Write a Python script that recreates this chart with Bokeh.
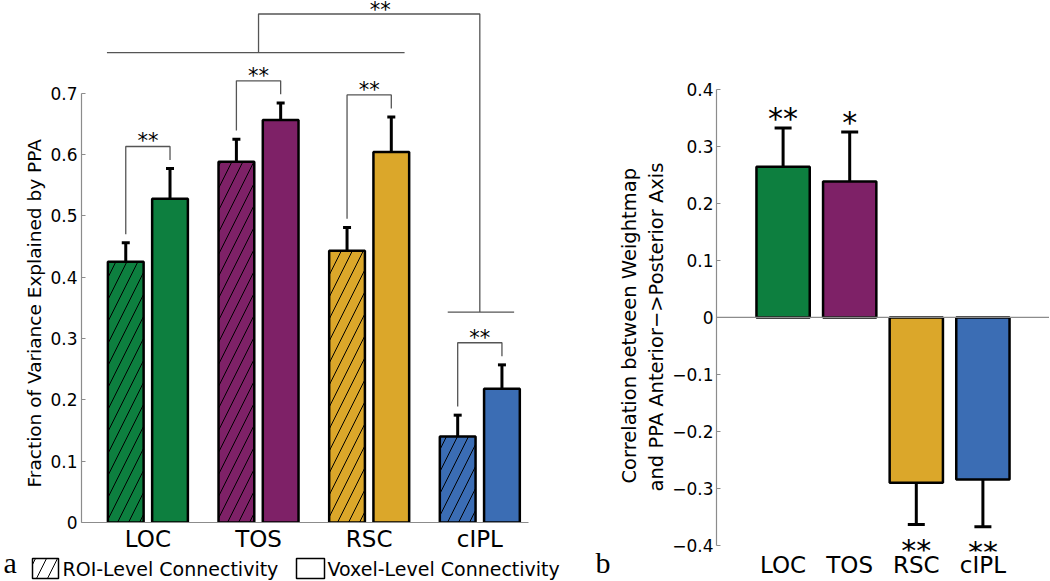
import numpy as np
from bokeh.plotting import figure
from bokeh.models import (ColumnDataSource, Whisker, TeeHead, FixedTicker, LinearAxis,
                          Span, Title, CustomJSTickFormatter)
from bokeh.layouts import row, column
from bokeh.embed import file_html
from bokeh.resources import INLINE
from bokeh.core.properties import value

# ---------------- data ----------------
regions = ["LOC", "TOS", "RSC", "cIPL"]
region_colors = ["#0d7f3f", "#7e2167", "#dba72a", "#3b6db4"]

roi_level = [0.425, 0.588, 0.443, 0.140]
roi_level_lower = [0.395, 0.551, 0.409, 0.104]
roi_level_upper = [0.456, 0.625, 0.481, 0.175]

voxel_level = [0.528, 0.656, 0.604, 0.218]
voxel_level_lower = [0.479, 0.630, 0.552, 0.182]
voxel_level_upper = [0.577, 0.684, 0.661, 0.257]

pair_stars = ["**", "**", "**", "**"]
group_vs_cipl_stars = "**"

correlation = [0.264, 0.238, -0.290, -0.284]
correlation_lower = [0.196, 0.152, -0.363, -0.367]
correlation_upper = [0.332, 0.325, -0.218, -0.200]
correlation_stars = ["**", "*", "**", "**"]

left_ticks = [0.0, 0.1, 0.2, 0.3, 0.4, 0.5, 0.6, 0.7]
left_tick_labels = ["0", "0.1", "0.2", "0.3", "0.4", "0.5", "0.6", "0.7"]
right_ticks = [-0.4, -0.3, -0.2, -0.1, 0.0, 0.1, 0.2, 0.3, 0.4]
right_tick_labels = ["\u22120.4", "\u22120.3", "\u22120.2", "\u22120.1", "0",
                     "0.1", "0.2", "0.3", "0.4"]

legend_labels = ["ROI-Level Connectivity", "Voxel-Level Connectivity"]
panel_letters = ["a", "b"]
left_ylabel = "Fraction of Variance Explained by PPA"
right_ylabel_lines = ["Correlation between Weightmap",
                      "and PPA Anterior\u2212>Posterior Axis"]

# ---------------- styles ----------------
FONT = "DejaVu Sans"
SERIF = "Liberation Serif"
AXIS_GRAY = "#8c8c8c"
BRACKET = "#555555"

LABEL_JS = """
let best = 0;
for (let i = 0; i < tvals.length; i++) {
  if (Math.abs(tvals[i] - tick) < Math.abs(tvals[best] - tick)) best = i;
}
return tlabels[best];
"""


def fmt(tv, tl):
    return CustomJSTickFormatter(args=dict(tvals=[float(t) for t in tv], tlabels=list(tl)),
                                 code=LABEL_JS)


def style_common(p):
    p.grid.visible = False
    p.outline_line_color = None
    p.background_fill_color = "white"
    p.border_fill_color = "white"


def style_axis(ax):
    ax.axis_line_color = AXIS_GRAY
    ax.axis_line_width = 1.2
    ax.major_tick_line_color = AXIS_GRAY
    ax.minor_tick_line_color = None
    ax.major_label_text_font = FONT
    ax.major_label_text_color = "black"


def blank_fig(w, h):
    f = figure(width=w, height=h, x_range=(0, w), y_range=(0, h),
               output_backend="svg", toolbar_location=None,
               x_axis_location=None, y_axis_location=None, frame_align=False,
               min_border_left=0, min_border_right=0, min_border_top=0, min_border_bottom=0)
    style_common(f)
    return f


# =============== panel a ===============
afig = blank_fig(20, 580)
afig.text(x=[3], y=[18], text=[panel_letters[0]], text_align="left",
          text_baseline="alphabetic", text_font=value(SERIF), text_font_size="30px",
          text_color="black")

p1 = figure(width=560, height=554, x_range=(-0.6, 3.44), y_range=(0, 0.851),
            output_backend="svg", toolbar_location=None,
            x_axis_location=None, y_axis_location=None, frame_align=False,
            min_border_left=59, min_border_right=52, min_border_top=0, min_border_bottom=30)
style_common(p1)

gx = np.arange(len(regions), dtype=float)
src1 = ColumnDataSource(dict(
    x_roi=gx - 0.2, x_vox=gx + 0.2,
    roi=roi_level, roi_lo=roi_level_lower, roi_hi=roi_level_upper,
    vox=voxel_level, vox_lo=voxel_level_lower, vox_hi=voxel_level_upper,
    color=region_colors))

p1.vbar(x="x_roi", top="roi", width=0.323, source=src1, fill_color="color",
        line_color="black", line_width=2.5, hatch_pattern="/", hatch_color="black",
        hatch_weight=1, hatch_scale=22)
p1.vbar(x="x_vox", top="vox", width=0.323, source=src1, fill_color="color",
        line_color="black", line_width=2.5)

for base, lo, hi in (("x_roi", "roi_lo", "roi_hi"), ("x_vox", "vox_lo", "vox_hi")):
    p1.add_layout(Whisker(base=base, lower=lo, upper=hi, source=src1,
                          line_color="black", line_width=3,
                          upper_head=TeeHead(size=8, line_width=3, line_color="black"),
                          lower_head=TeeHead(size=8, line_width=3, line_color="black")))

# pairwise brackets
leg_gap, rise = 0.014, 0.036
bx, by, tops = [], [], []
for i in range(len(regions)):
    top = max(roi_level_upper[i], voxel_level_upper[i]) + rise
    tops.append(top)
    bx.append([gx[i] - 0.2, gx[i] - 0.2, gx[i] + 0.2, gx[i] + 0.2])
    by.append([roi_level_upper[i] + leg_gap, top, top, voxel_level_upper[i] + leg_gap])
p1.multi_line(bx, by, line_color=BRACKET, line_width=1.3)
p1.text(x=list(gx), y=tops, text=pair_stars, text_align="center",
        text_baseline="alphabetic", y_offset=-5, text_font=value(FONT),
        text_font_size="21px", text_color="black")

# group (LOC, TOS, RSC) vs cIPL bracket
group_line = max(tops[:3]) + 0.046
cipl_line = tops[3] + 0.05
top_line = group_line + 0.063
p1.line([gx[0] - 0.37, gx[2] + 0.32], [group_line, group_line], line_color=BRACKET, line_width=1.3)
p1.line([gx[3] - 0.29, gx[3] + 0.31], [cipl_line, cipl_line], line_color=BRACKET, line_width=1.3)
p1.line([gx[1], gx[1], gx[3], gx[3]], [group_line, top_line, top_line, cipl_line],
        line_color=BRACKET, line_width=1.3)
p1.text(x=[2.1], y=[top_line], text=[group_vs_cipl_stars], text_align="center",
        text_baseline="alphabetic", y_offset=-4, text_font=value(FONT),
        text_font_size="21px", text_color="black")

# axes
yax1 = LinearAxis(ticker=FixedTicker(ticks=left_ticks), bounds=(0, 0.7),
                  formatter=fmt(left_ticks, left_tick_labels))
xax1 = LinearAxis(ticker=FixedTicker(ticks=list(gx)), formatter=fmt(gx, regions))
style_axis(yax1)
style_axis(xax1)
yax1.major_tick_in = 4
yax1.major_tick_out = 0
yax1.major_label_text_font_size = "17px"
yax1.major_label_standoff = 4
xax1.major_tick_in = 0
xax1.major_tick_out = 0
xax1.major_label_text_font_size = "23px"
xax1.major_label_standoff = 3
p1.add_layout(yax1, "left")
p1.add_layout(Title(text=left_ylabel, align="left", offset=35, vertical_align="middle",
                    standoff=4, text_font=FONT, text_font_size="18.5px",
                    text_font_style="normal", text_color="black"), "left")
p1.add_layout(xax1, "below")

# legend strip
strip1 = blank_fig(560, 26)
strip1.rect(x=[25], y=[12], width=26, height=20, fill_color="white",
            line_color="black", line_width=1.5, hatch_pattern="/", hatch_color="black",
            hatch_scale=22)
strip1.rect(x=[290], y=[12], width=28, height=20, fill_color="white",
            line_color="black", line_width=1.5)
strip1.text(x=[42, 307], y=[12, 12], text=legend_labels, text_align="left",
            text_baseline="alphabetic", text_font=value(FONT), text_font_size="19px",
            text_color="black")

# =============== panel b ===============
bfig = blank_fig(35, 580)
bfig.text(x=[15], y=[18], text=[panel_letters[1]], text_align="left",
          text_baseline="alphabetic", text_font=value(SERIF), text_font_size="30px",
          text_color="black")

p2 = figure(width=434, height=580, x_range=(0, 5), y_range=(-0.4104, 0.5555),
            output_backend="svg", toolbar_location=None,
            x_axis_location=None, y_axis_location=None, frame_align=False,
            min_border_left=101, min_border_right=0, min_border_top=0, min_border_bottom=27)
style_common(p2)

cx = [1.0, 2.0, 3.0, 4.0]
star_y = [hi if v > 0 else lo for v, lo, hi in zip(correlation, correlation_lower, correlation_upper)]
star_off = [-9 if v > 0 else 26 for v in correlation]
src2 = ColumnDataSource(dict(x=cx, v=correlation, lo=correlation_lower, hi=correlation_upper,
                             color=region_colors, sy=star_y, soff=star_off,
                             stars=correlation_stars))
p2.add_layout(Span(location=0, dimension="width", line_color=AXIS_GRAY, line_width=1.2))
p2.vbar(x="x", top="v", bottom=0, width=0.8, source=src2, fill_color="color",
        line_color="black", line_width=2.5)
p2.add_layout(Whisker(base="x", lower="lo", upper="hi", source=src2,
                      line_color="black", line_width=3,
                      upper_head=TeeHead(size=17, line_width=3, line_color="black"),
                      lower_head=TeeHead(size=17, line_width=3, line_color="black")))
p2.text(x="x", y="sy", text="stars", y_offset="soff", source=src2, text_align="center",
        text_baseline="alphabetic", text_font=value(FONT), text_font_size="30px",
        text_color="black")

yax2 = LinearAxis(ticker=FixedTicker(ticks=right_ticks), bounds=(-0.4, 0.4),
                  formatter=fmt(right_ticks, right_tick_labels))
xax2 = LinearAxis(ticker=FixedTicker(ticks=cx), formatter=fmt(cx, regions))
style_axis(yax2)
style_axis(xax2)
yax2.major_tick_in = 4
yax2.major_tick_out = 0
yax2.major_label_text_font_size = "17px"
yax2.major_label_standoff = 3
xax2.axis_line_color = None
xax2.major_tick_in = 0
xax2.major_tick_out = 0
xax2.major_label_text_font_size = "23px"
xax2.major_label_standoff = 0
p2.add_layout(yax2, "left")
p2.add_layout(Title(text=right_ylabel_lines[1], align="left", offset=60, vertical_align="middle",
                    standoff=1, text_font=FONT, text_font_size="19.5px",
                    text_font_style="normal", text_color="black"), "left")
p2.add_layout(Title(text=right_ylabel_lines[0], align="left", offset=68, vertical_align="middle",
                    standoff=3, text_font=FONT, text_font_size="19.5px",
                    text_font_style="normal", text_color="black"), "left")
p2.add_layout(xax2, "below")

layout = row(afig, column(p1, strip1), bfig, p2)
open("out.html", "w").write(file_html(layout, INLINE))
